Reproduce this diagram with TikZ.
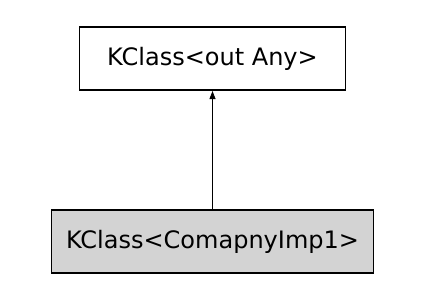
\documentclass[tikz,border=0pt]{standalone}
\usepackage{fontspec}
\setmainfont{DejaVu Sans}
\usetikzlibrary{arrows.meta, positioning}
\definecolor{boxgray}{HTML}{D3D3D3}
\definecolor{linebk}{HTML}{000000}

\begin{document}
\begin{tikzpicture}[x=1pt, y=1pt, >={Triangle[length=8pt, width=6pt]},
  classbox/.style={draw=linebk, line width=1.7pt, minimum height=63pt,
    inner sep=0pt, font=\fontsize{24}{28}\selectfont}]

% Background
\useasboundingbox (0,0) rectangle (427,297);

% Super class
\node[classbox, minimum width=266pt] (superkc) at (212.5,238.3) {KClass<out Any>};

% Sub class
\node[classbox, fill=boxgray, minimum width=322pt, below=118pt of superkc] (subkc) {KClass<ComapnyImp1>};

% Generalization
\draw[->, line width=0.8pt] (subkc) -- (superkc);

\end{tikzpicture}
\end{document}
